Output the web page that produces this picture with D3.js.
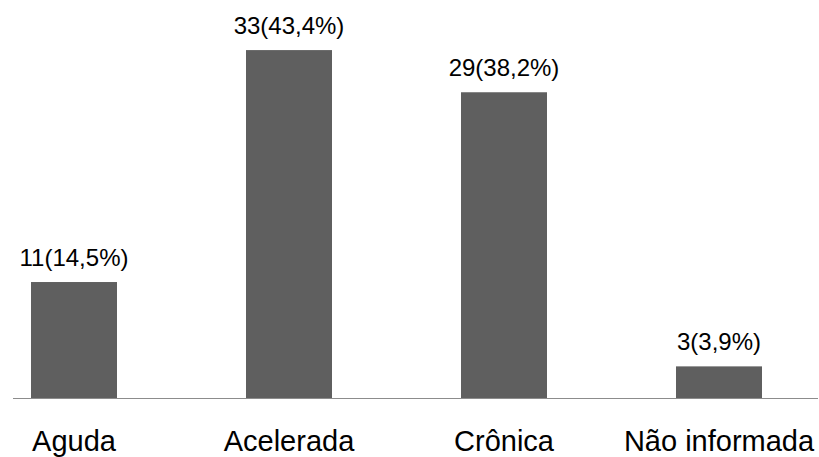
<!DOCTYPE html>
<html>
<head>
<meta charset="utf-8">
<script src="https://cdn.jsdelivr.net/npm/d3@7"></script>
<style>
    body { margin: 0; background: #ffffff; }
    text { font-family: "Liberation Sans", Arial, sans-serif; fill: #000000; }
</style>
</head>
<body>
<div id="chart"></div>
<script>
const categories = ["Aguda", "Acelerada", "Crônica", "Não informada"];
const counts = [11, 33, 29, 3];
const valueLabels = ["11(14,5%)", "33(43,4%)", "29(38,2%)", "3(3,9%)"];

function drawChart() {
    const w = 819;
    const h = 457;
    const baseY = 398;

    const svg = d3.select("#chart")
        .append("svg")
        .attr("width", w)
        .attr("height", h);

    const xScale = d3.scaleBand()
        .domain(d3.range(categories.length))
        .range([-33.5, 826.5])
        .paddingInner(0.6)
        .paddingOuter(0.3);

    const yScale = d3.scaleLinear()
        .domain([0, 35])
        .range([baseY, 29]);

    svg.selectAll("rect")
        .data(counts)
        .enter()
        .append("rect")
        .attr("x", function (d, i) {
            return xScale(i);
        })
        .attr("y", function (d) {
            return yScale(d);
        })
        .attr("width", xScale.bandwidth())
        .attr("height", function (d) {
            return baseY - yScale(d);
        })
        .attr("fill", "#5f5f5f");

    // baseline
    svg.append("line")
        .attr("x1", 13)
        .attr("x2", 818)
        .attr("y1", baseY + 0.5)
        .attr("y2", baseY + 0.5)
        .attr("stroke", "#8c8c8c")
        .attr("stroke-width", 1);

    // value labels
    svg.selectAll(".valueLabel")
        .data(counts)
        .enter()
        .append("text")
        .attr("class", "valueLabel")
        .attr("text-anchor", "middle")
        .attr("x", function (d, i) {
            return xScale(i) + xScale.bandwidth() / 2;
        })
        .attr("y", function (d) {
            return yScale(d) - 16;
        })
        .style("font-size", "24px")
        .text(function (d, i) {
            return valueLabels[i];
        });

    // category labels
    svg.selectAll(".catLabel")
        .data(categories)
        .enter()
        .append("text")
        .attr("class", "catLabel")
        .attr("text-anchor", "middle")
        .attr("x", function (d, i) {
            return xScale(i) + xScale.bandwidth() / 2;
        })
        .attr("y", 451)
        .style("font-size", "29px")
        .text(function (d) {
            return d;
        });
}

window.onload = drawChart;
</script>
</body>
</html>
